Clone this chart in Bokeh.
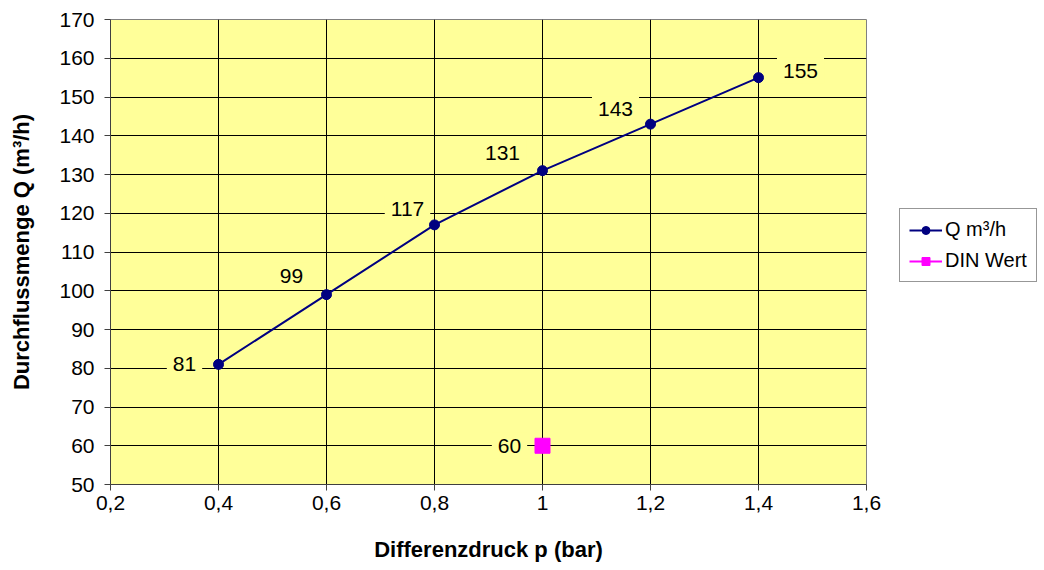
from bokeh.plotting import figure
from bokeh.models import ColumnDataSource, Legend, LegendItem, FixedTicker
from bokeh.core.properties import value
from bokeh.embed import file_html
from bokeh.resources import INLINE

# Data
pressure = [0.4, 0.6, 0.8, 1.0, 1.2, 1.4]
flow = [81, 99, 117, 131, 143, 155]
din_pressure = [1.0]
din_flow = [60]
x_ticks = [0.2, 0.4, 0.6, 0.8, 1.0, 1.2, 1.4, 1.6]
x_tick_labels = ["0,2", "0,4", "0,6", "0,8", "1", "1,2", "1,4", "1,6"]
y_ticks = list(range(50, 171, 10))

# label placement (screen offsets, px; positive dy = up)
flow_dx = [-34, -35, -27, -40, -35, 42]
flow_dy = [0, 19, 16, 18, 15, 7]

FONT = "Liberation Sans"
BG = "#FFFF99"

p = figure(frame_width=756, frame_height=465, output_backend="svg", toolbar_location=None,
           x_range=(0.2, 1.6), y_range=(50, 170),
           min_border_left=110, min_border_right=170, min_border_top=19, min_border_bottom=78,
           background_fill_color=BG, border_fill_color="white")
p.outline_line_color = "#808080"

for ax in (p.xaxis[0], p.yaxis[0]):
    ax.axis_line_color = "#404040"
    ax.major_tick_line_color = "#404040"
    ax.major_tick_out = 6
    ax.major_tick_in = 0
    ax.minor_tick_out = 0
    ax.minor_tick_in = 0
    ax.major_label_text_font = FONT
    ax.major_label_text_font_size = "21px"
    ax.major_label_text_color = "black"
    ax.axis_label_text_font = FONT
    ax.axis_label_text_font_size = "22px"
    ax.axis_label_text_font_style = "bold"
    ax.axis_label_text_color = "black"

p.xaxis.ticker = FixedTicker(ticks=x_ticks)
p.xaxis.major_label_overrides = {t: l for t, l in zip(x_ticks, x_tick_labels)}
p.yaxis.ticker = FixedTicker(ticks=y_ticks)
p.xaxis.axis_label = "Differenzdruck p (bar)"
p.yaxis.axis_label = "Durchflussmenge Q (m³/h)"
p.xaxis.axis_label_standoff = 24
p.yaxis.axis_label_standoff = 22
p.xaxis.major_label_standoff = 5
p.yaxis.major_label_standoff = 10

p.xgrid.ticker = FixedTicker(ticks=x_ticks)
p.ygrid.ticker = FixedTicker(ticks=y_ticks)
p.grid.grid_line_color = "black"
p.grid.grid_line_width = 1

src = ColumnDataSource(dict(x=pressure, y=flow, t=[str(v) for v in flow],
                            dx=flow_dx, dy=[-d for d in flow_dy]))
ln = p.line("x", "y", source=src, line_color="#000080", line_width=2)
pts = p.scatter("x", "y", source=src, size=10, marker="circle", fill_color="#000080", line_color="#000080")

dsrc = ColumnDataSource(dict(x=din_pressure, y=din_flow, t=[str(v) for v in din_flow]))
dln = p.line("x", "y", source=dsrc, line_color="#FF00FF", line_width=2)
dpt = p.scatter("x", "y", source=dsrc, size=15, marker="square", fill_color="#FF00FF", line_color="#FF00FF")

p.text("x", "y", text="t", source=src, x_offset="dx", y_offset="dy",
       text_align="center", text_baseline="middle", text_font=value(FONT),
       text_font_size="21px", text_color="black",
       background_fill_color=BG, padding=6)
p.text("x", "y", text="t", source=dsrc, x_offset=-33, y_offset=0,
       text_align="center", text_baseline="middle", text_font=value(FONT),
       text_font_size="21px", text_color="black",
       background_fill_color=BG, padding=6)

legend = Legend(items=[LegendItem(label="Q m³/h", renderers=[ln, pts]),
                       LegendItem(label="DIN Wert", renderers=[dln, dpt])],
                location=(33, 202))
legend.label_text_font = FONT
legend.label_text_font_size = "20px"
legend.label_text_color = "black"
legend.border_line_color = "#303030"
legend.border_line_width = 1
legend.background_fill_color = "white"
legend.background_fill_alpha = 1
legend.glyph_width = 33
legend.label_height = 20
legend.glyph_height = 20
legend.spacing = 8
legend.padding = 9
legend.margin = 0
legend.label_standoff = 3
p.add_layout(legend, "right")

open("out.html", "w").write(file_html(p, INLINE))
